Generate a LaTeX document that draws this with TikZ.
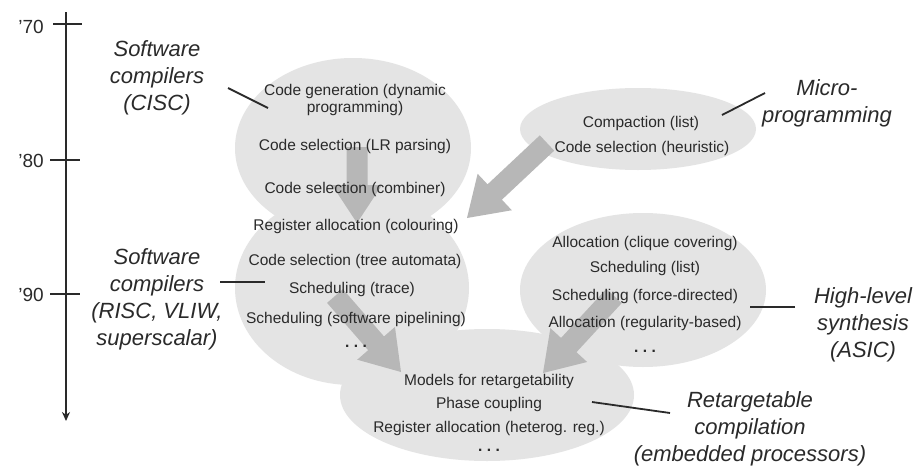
\documentclass[tikz,border=0pt]{standalone}
\usepackage{fontspec}
\setmainfont{Liberation Sans}
\usetikzlibrary{shapes.geometric,calc,arrows.meta}

\definecolor{blobgray}{HTML}{E4E4E4}
\definecolor{arrowgray}{HTML}{B7B7B7}
\definecolor{ink}{HTML}{2A2A2A}

% wide filled arrow from #1 to the tip #2
\newcommand\bkarrow[2]{%
  \coordinate (ba-h) at ($(#2)!38pt!(#1)$);
  \fill[arrowgray]
    ($(#1)!10.5pt!90:(#2)$) -- ($(ba-h)!10.5pt!90:(#2)$) --
    ($(ba-h)!25pt!90:(#2)$) -- (#2) --
    ($(ba-h)!25pt!-90:(#2)$) -- ($(ba-h)!10.5pt!-90:(#2)$) --
    ($(#1)!10.5pt!-90:(#2)$) -- cycle;
}
% spaced ellipsis marking an open list
\newcommand\moredots{\textbf{.}\hspace{4.5pt}\textbf{.}\hspace{4.5pt}\textbf{.}}

\begin{document}
\begin{tikzpicture}[x=1pt,y=-1pt,
  blob/.style={ellipse,fill=blobgray,draw=none,inner sep=0pt},
  item/.style={font=\fontsize{15.5}{18}\selectfont,text=ink,inner sep=0pt,
               text height=11pt,text depth=3pt},
  tag/.style={font=\fontsize{22}{27}\selectfont\itshape,text=ink,
              align=center,inner sep=0pt},
  year/.style={font=\fontsize{19}{22}\selectfont,text=ink,inner sep=0pt,anchor=east},
  leader/.style={draw=ink,line width=1.8pt},
  axis/.style={draw=ink,line width=1.6pt},
]
\useasboundingbox[fill=white] (0,0) rectangle (914,466);

% ---- time axis ----
\coordinate (axtop) at (66,12);
\coordinate (axbot) at (66,421);
\draw[axis,-{Stealth[length=9pt,width=8pt]}] (axtop) -- (axbot);
\coordinate (t70a) at (53,24);  \coordinate (t70b) at (82,24);
\coordinate (t80a) at (50,160); \coordinate (t80b) at (80,160);
\coordinate (t90a) at (50,294); \coordinate (t90b) at (80,294);
\draw[axis] (t70a) -- (t70b);
\draw[axis] (t80a) -- (t80b);
\draw[axis] (t90a) -- (t90b);
\node[year] (y70) at (44,27)  {’70};
\node[year] (y80) at (44,161) {’80};
\node[year] (y90) at (44,295) {’90};

% ---- research areas ----
\node[blob,minimum width=236pt,minimum height=180pt] (cisc)  at (353,148) {};
\node[blob,minimum width=234pt,minimum height=194pt] (risc)  at (352,288) {};
\node[blob,minimum width=236pt,minimum height=82pt]  (micro) at (638,129) {};
\node[blob,minimum width=246pt,minimum height=154pt] (hls)   at (643,290) {};
\node[blob,minimum width=294pt,minimum height=132pt] (retar) at (487,395) {};

% ---- influence arrows ----
\coordinate (a1s) at (357,147); \coordinate (a1e) at (357,223);
\coordinate (a2s) at (547,143); \coordinate (a2e) at (467,218);
\coordinate (a3s) at (335,296); \coordinate (a3e) at (401,372);
\coordinate (a4s) at (614,296); \coordinate (a4e) at (543,373);
\bkarrow{a1s}{a1e}
\bkarrow{a2s}{a2e}
\bkarrow{a3s}{a3e}
\bkarrow{a4s}{a4e}

% ---- techniques ----
\node[item] (cgen)  at (355,91)  {Code generation (dynamic};
\node[item] (cgen2) at (355,108) {programming)};
\node[item] (clr)   at (355,146) {Code selection (LR parsing)};
\node[item] (ccomb) at (355,189) {Code selection (combiner)};

\node[item] (rcol)  at (356,226) {Register allocation (colouring)};
\node[item] (rtree) at (355,261) {Code selection (tree automata)};
\node[item] (rtr)   at (352,289) {Scheduling (trace)};
\node[item] (rswp)  at (356,319) {Scheduling (software pipelining)};
\node[item] (rdots) at (356,343) {\moredots};

\node[item] (mcomp) at (641,123) {Compaction (list)};
\node[item] (mcsel) at (642,148) {Code selection (heuristic)};

\node[item] (hclq)  at (645,243) {Allocation (clique covering)};
\node[item] (hlist) at (645,268) {Scheduling (list)};
\node[item] (hforc) at (645,296) {Scheduling (force-directed)};
\node[item] (hreg)  at (645,323) {Allocation (regularity-based)};
\node[item] (hdots) at (645,348) {\moredots};

\node[item] (tmod)  at (489,381) {Models for retargetability};
\node[item] (tph)   at (489,404) {Phase coupling};
\node[item] (tra)   at (489,428) {Register allocation (heterog. reg.)};
\node[item] (tdots) at (489,447) {\moredots};

% ---- area labels and their leaders ----
\node[tag] (lcisc)  at (157,78)  {Software\\compilers\\(CISC)};
\node[tag] (lrisc)  at (157,299) {Software\\compilers\\(RISC, VLIW,\\superscalar)};
\node[tag] (lmicro) at (827,103) {Micro-\\programming};
\node[tag] (lhls)   at (863,325) {High-level\\synthesis\\(ASIC)};
\node[tag] (lret)   at (750,429) {Retargetable\\compilation\\(embedded processors)};

\coordinate (kc1) at (228,88);  \coordinate (kc2) at (268,108);
\coordinate (km1) at (765,93);  \coordinate (km2) at (722,115);
\coordinate (kr1) at (220,282); \coordinate (kr2) at (265,282);
\coordinate (kh1) at (795,307); \coordinate (kh2) at (750,307);
\coordinate (kt1) at (670,413); \coordinate (kt2) at (592,402);
\draw[leader] (kc1) -- (kc2);
\draw[leader] (km1) -- (km2);
\draw[leader] (kr1) -- (kr2);
\draw[leader] (kh1) -- (kh2);
\draw[leader] (kt1) -- (kt2);
\end{tikzpicture}
\end{document}
